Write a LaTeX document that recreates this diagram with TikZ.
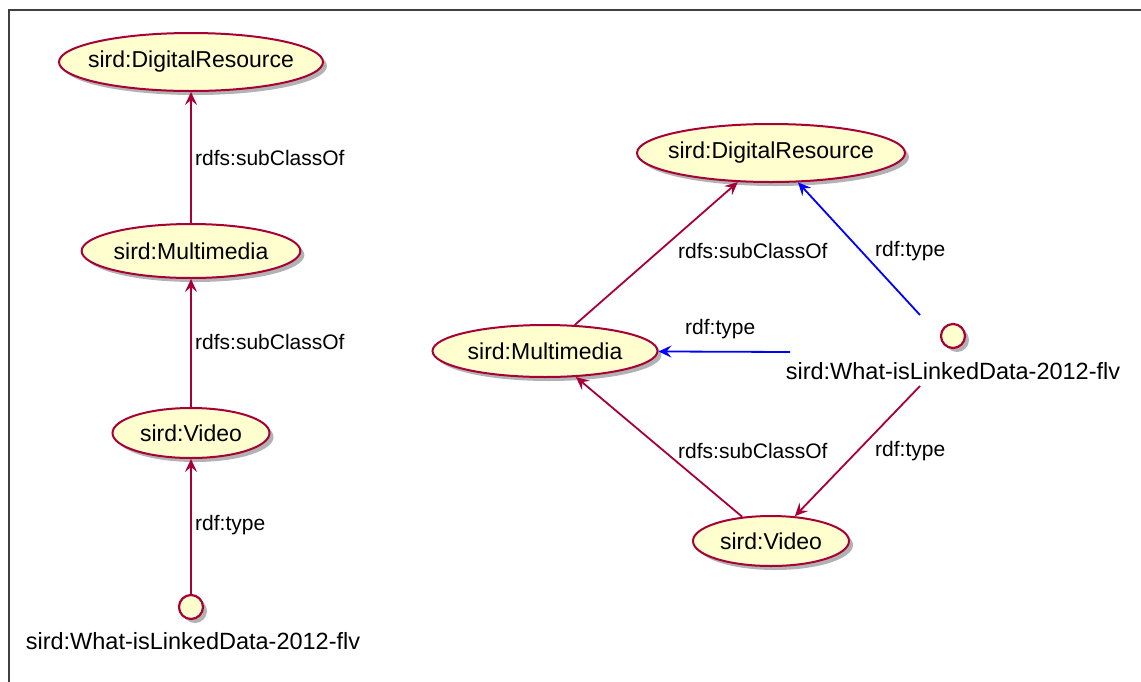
\documentclass[tikz,border=0pt]{standalone}
\usepackage{fontspec}
\setmainfont{Liberation Sans}
\usetikzlibrary{shapes.geometric,arrows.meta,shadows}
\definecolor{pfill}{HTML}{FEFECE}
\definecolor{pline}{HTML}{A80036}
\definecolor{pblue}{HTML}{0000FF}
\tikzset{
  x=1pt,y=-1pt,
  psh/.style={drop shadow={shadow xshift=4pt,shadow yshift=-4pt,fill=black,opacity=0.3}},
  cls/.style={ellipse,draw=pline,fill=pfill,line width=2pt,inner sep=0pt,psh,
    font=\fontsize{23}{27}\selectfont},
  obj/.style={circle,draw=pline,fill=pfill,line width=2.2pt,inner sep=0pt,minimum size=24pt,psh},
  objlbl/.style={font=\fontsize{23.5}{28}\selectfont,inner sep=0pt},
  elbl/.style={font=\fontsize{21}{25}\selectfont,anchor=west,inner sep=0pt},
  redge/.style={draw=pline,line width=1.8pt,-{Stealth[length=13pt,width=12pt,inset=5pt]}},
  bedge/.style={draw=pblue,line width=1.8pt,-{Stealth[length=13pt,width=12pt,inset=5pt]}},
}
\begin{document}
\begin{tikzpicture}
\useasboundingbox (0,0) rectangle (1141,681);
\clip (0,0) rectangle (1141,681);
\draw[black!75,line width=1.2pt] (9,10) rectangle (1160,700);

% left column
\node[cls,inner xsep=-12pt,minimum width=264pt,minimum height=58pt] (LDR) at (191,62) {sird:DigitalResource};
\node[cls,minimum width=218pt,minimum height=54pt] (LMM) at (191,251) {sird:Multimedia};
\node[cls,minimum width=157pt,minimum height=50pt] (LV) at (191,433) {sird:Video};
\node[obj] (LO) at (191,607) {};
\node[objlbl] (LOL) at (193,641) {sird:What-isLinkedData-2012-flv};

\draw[redge] (LMM) -- (LDR);
\draw[redge] (LV) -- (LMM);
\draw[redge] (LO) -- (LV);
\node[elbl] (l1) at (195,158) {rdfs:subClassOf};
\node[elbl] (l2) at (195,342) {rdfs:subClassOf};
\node[elbl] (l3) at (195,525) {rdf:type};

% right graph
\node[cls,inner xsep=-12pt,minimum width=268pt,minimum height=58pt] (RDR) at (771,153) {sird:DigitalResource};
\node[cls,minimum width=225pt,minimum height=52pt] (RMM) at (545,351) {sird:Multimedia};
\node[cls,minimum width=156pt,minimum height=50pt] (RV) at (771,541) {sird:Video};
\node[obj] (RO) at (953,336) {};
\node[objlbl] (ROL) at (953,371) {sird:What-isLinkedData-2012-flv};
\coordinate (rs1) at (920,315);
\coordinate (rs2) at (790,352);
\coordinate (rs3) at (920,386);

\draw[redge] (RMM) -- (RDR);
\draw[bedge] (rs1) -- (RDR);
\draw[bedge] (rs2) -- (RMM);
\draw[redge] (rs3) -- (RV);
\draw[redge] (RV) -- (RMM);

\node[elbl] (r1) at (678,251) {rdfs:subClassOf};
\node[elbl] (r2) at (875,251) {rdf:type};
\node[elbl] (r3) at (685,329) {rdf:type};
\node[elbl] (r4) at (678,451) {rdfs:subClassOf};
\node[elbl] (r5) at (875,451) {rdf:type};
\end{tikzpicture}
\end{document}
